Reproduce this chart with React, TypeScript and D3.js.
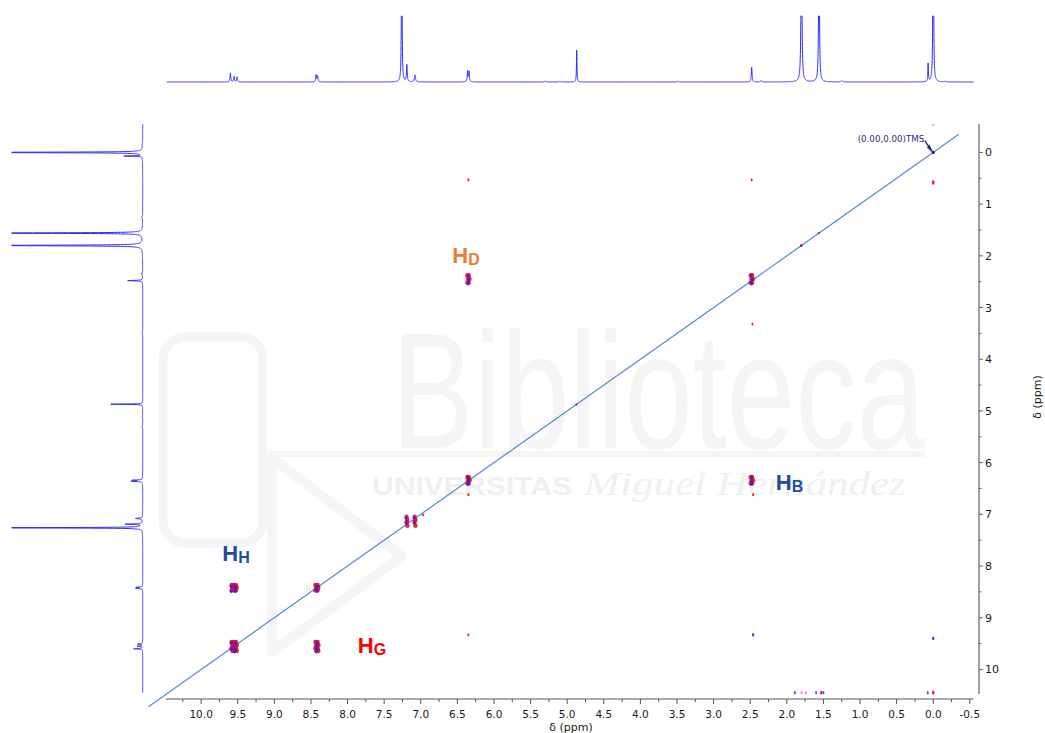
import React from 'react';
import * as d3 from 'd3';

const W = 1045;
const H = 733;

// 1H peak table: chemical shift (ppm), height (px units), half width at half height (ppm)
const peakShift = [9.6, 9.55, 9.51, 8.43, 8.41, 7.26, 7.19, 7.08, 6.36, 6.34, 5.3, 5.1, 4.87, 3.49, 2.48, 2.35, 1.8, 1.56, 1.25, 0.07, 0.0, -0.16];
const peakHeight = [9, 5.5, 5, 7, 6, 220, 17, 7, 11, 10, 0.8, 0.6, 32, 0.8, 15, 1.5, 200, 220, 1.2, 18, 320, 0.6];
const peakWidth = [0.006, 0.006, 0.006, 0.006, 0.006, 0.004, 0.006, 0.008, 0.006, 0.006, 0.01, 0.01, 0.004, 0.01, 0.006, 0.008, 0.006, 0.005, 0.012, 0.004, 0.004, 0.01];

// axis ticks
const f2Labels = [10.0, 9.5, 9.0, 8.5, 8.0, 7.5, 7.0, 6.5, 6.0, 5.5, 5.0, 4.5, 4.0, 3.5, 3.0, 2.5, 2.0, 1.5, 1.0, 0.5, 0.0, -0.5];
const f1Labels = [0, 1, 2, 3, 4, 5, 6, 7, 8, 9, 10];

// COSY spin groups: multiplet lines along f2 and f1
const groupName = ['HH', 'HG', 'A719', 'A708', 'HD', 'HB', 'W180', 'W156', 'S487', 'TMS'];
const groupF2 = [
  [9.52, 9.55, 9.58],
  [8.405, 8.435],
  [7.19],
  [7.08],
  [6.34, 6.36],
  [2.47, 2.49],
  [1.8],
  [1.56],
  [4.87],
  [0.0],
];
const groupF1 = [
  [9.47, 9.53, 9.59, 9.64],
  [8.37, 8.42, 8.47],
  [7.15, 7.22],
  [7.05, 7.11],
  [6.28, 6.34, 6.4],
  [2.38, 2.45, 2.52],
  [1.8],
  [1.56],
  [4.87],
  [0.0],
];
const groupSize = [1, 1, 1, 1, 1, 1, 0.6, 0.45, 0.45, 0.5];

// cross peaks as (f2 group, f1 group)
const crossPeaks: [string, string][] = [
  ['HH', 'HH'], ['HG', 'HG'], ['A719', 'A719'], ['A708', 'A708'], ['A719', 'A708'], ['A708', 'A719'],
  ['HD', 'HD'], ['HB', 'HB'], ['HH', 'HG'], ['HG', 'HH'], ['HD', 'HB'], ['HB', 'HD'],
  ['W180', 'W180'], ['W156', 'W156'], ['S487', 'S487'],
];

// weak t1-noise responses
const noiseF2 = [6.35, 2.48, 0.0, 2.47, 6.35, 2.46, 6.35, 2.46, 0.0, 6.97, 1.89, 1.8, 1.74, 1.6, 1.53, 1.5, 0.075, 0.0, 0.0];
const noiseF1 = [0.53, 0.53, 0.58, 3.32, 6.62, 6.62, 9.33, 9.33, 9.4, 7.01, 10.45, 10.45, 10.45, 10.45, 10.45, 10.45, 10.45, 10.45, -0.53];
const noiseTone = ['r', 'r', 'r', 'r', 'r', 'r', 'r', 'b', 'b', 'r', 'b', 'p', 'p', 'b', 'r', 'b', 'b', 'r', 'p'];
const noiseSize = [1, 1, 1.4, 1, 1, 1, 1, 1.2, 1.2, 1, 1, 1, 1, 1, 1.2, 1, 1, 1.3, 0.8];

// assignment labels: subscript, colour, f2 ppm, f1 ppm
const labelSub = ['D', 'H', 'G', 'B'];
const labelColor = ['#ED7D31', '#1F4E9C', '#FF0000', '#1F4E9C'];
const labelF2 = [6.57, 9.71, 7.86, 2.15];
const labelF1 = [2.14, 7.9, 9.68, 6.53];

const x = d3.scaleLinear().domain([10.48, -0.55]).range([166, 973.5]);
const y = d3.scaleLinear().domain([-0.55, 10.45]).range([124, 692.7]);

const RED = '#e3001b';
const BLUE = '#2424ff';
const PINK = '#e86ad0';

function spectrum() {
  const grid = d3.range(10.48, -0.55, -0.001).concat(peakShift);
  grid.sort((a, b) => b - a);
  return grid.map((p) => {
    let v = 0;
    for (let k = 0; k < peakShift.length; k++) {
      const w = peakWidth[k];
      const d = p - peakShift[k];
      v += (peakHeight[k] * w * w) / (w * w + d * d);
    }
    return { p, v };
  });
}

const TOP_BASE = 82;
const TOP_CLIP = 66;
const LEFT_BASE = 142.7;
const LEFT_CLIP = 131;

export default function App() {
  const spec = spectrum();
  const topPath = d3
    .line<{ p: number; v: number }>()
    .x((d) => x(d.p))
    .y((d) => TOP_BASE - Math.min(d.v, TOP_CLIP))(spec.filter((d) => d.p <= 10.47 && d.p >= -0.57)) as string;
  const leftPath = d3
    .line<{ p: number; v: number }>()
    .x((d) => LEFT_BASE - Math.min(d.v, LEFT_CLIP))
    .y((d) => y(d.p))(spec.filter((d) => d.p <= 10.45 && d.p >= -0.55)) as string;

  const f2Minor = d3.range(10.25, -0.5, -0.5);
  const f1Minor = d3.range(0.5, 10.5, 1);

  const idx = (n: string) => groupName.indexOf(n);

  const blobs: React.ReactNode[] = [];
  crossPeaks.forEach(([a, b], ci) => {
    const ia = idx(a);
    const ib = idx(b);
    const s = Math.min(groupSize[ia], groupSize[ib]);
    const xs = groupF2[ia];
    const ys = groupF1[ib];
    xs.forEach((px, i) =>
      ys.forEach((py, j) => {
        blobs.push(
          <ellipse key={`r${ci}-${i}-${j}`} cx={x(px) + (j % 2 ? 0.5 : -0.3) * s} cy={y(py)} rx={2.2 * s} ry={2.4 * s} fill={RED} opacity={0.85} />
        );
      })
    );
    xs.forEach((px, i) =>
      ys.forEach((py, j) => {
        if ((i + j) % 2 === 0 || s < 0.7) {
          blobs.push(
            <ellipse key={`b${ci}-${i}-${j}`} cx={x(px) + (j % 2 ? 0.8 : -0.9) * s} cy={y(py) + 1.0 * s} rx={1.4 * s} ry={1.7 * s} fill={BLUE} opacity={0.85} />
          );
        }
      })
    );
  });

  const font = '"DejaVu Sans", Verdana, sans-serif';

  return (
    <svg width={W} height={H} viewBox={`0 0 ${W} ${H}`} style={{ position: 'absolute', left: 0, top: 0, background: '#fff' }}>
      <rect x={0} y={0} width={W} height={H} fill="#fff" />

      {/* library watermark */}
      <g fill="none" stroke="#f5f5f5">
        <rect x={163} y={337} width={100} height={206} rx={22} strokeWidth={9} />
        <path d="M272,458 L272,652 L402,556 Z" strokeWidth={10} strokeLinejoin="round" />
        <line x1={268} y1={454} x2={925} y2={454} strokeWidth={6} />
      </g>
      <text x={392} y={448} fontFamily='"Liberation Sans", Arial, sans-serif' fontSize={165} fill="#f5f5f5" textLength={533} lengthAdjust="spacingAndGlyphs">
        Biblioteca
      </text>
      <text x={372} y={495} fontFamily='"Liberation Sans", Arial, sans-serif' fontWeight="bold" fontSize={25} fill="#f0f0f0" textLength={200} lengthAdjust="spacingAndGlyphs">
        UNIVERSITAS
      </text>
      <text x={584} y={495} fontFamily='"Liberation Serif", serif' fontStyle="italic" fontSize={34} fill="#f0f0f0" textLength={322} lengthAdjust="spacingAndGlyphs">
        Miguel Hernández
      </text>

      {/* 1D projections */}
      <path d={topPath} fill="none" stroke="#2b2bff" strokeWidth={1} strokeLinejoin="round" />
      <path d={leftPath} fill="none" stroke="#2b2bff" strokeWidth={1} strokeLinejoin="round" />

      {/* diagonal */}
      <line x1={x(10.72)} y1={y(10.72)} x2={x(-0.35)} y2={y(-0.35)} stroke="#5a86d6" strokeWidth={1.2} />

      {/* cross peaks */}
      <g>{blobs}</g>
      <g>
        {noiseF2.map((p, i) => (
          <ellipse
            key={`n${i}`}
            cx={x(p)}
            cy={y(noiseF1[i])}
            rx={1.0 * noiseSize[i]}
            ry={1.6 * noiseSize[i]}
            fill={noiseTone[i] === 'r' ? RED : noiseTone[i] === 'b' ? BLUE : PINK}
            opacity={0.85}
          />
        ))}
      </g>

      {/* TMS reference */}
      <circle cx={x(0)} cy={y(0)} r={1.6} fill="#23237a" />
      <line x1={x(0.115)} y1={y(-0.23)} x2={x(0.02)} y2={y(-0.02)} stroke="#23237a" strokeWidth={1.3} />
      <path d={`M${x(0)},${y(0)} L${x(0.055)},${y(-0.16)} L${x(0.085)},${y(-0.09)} Z`} fill="#23237a" />
      <text x={x(0.0) - 9} y={141.5} textAnchor="end" fontFamily={font} fontSize={8.7} fill="#2b2b80">
        (0.00,0.00)TMS
      </text>

      {/* assignment labels */}
      {labelSub.map((s, i) => (
        <text key={`l${i}`} x={x(labelF2[i])} y={y(labelF1[i])} fontFamily='"Liberation Sans", Arial, sans-serif' fontWeight="bold" fontSize={22} fill={labelColor[i]}>
          H
          <tspan fontSize={16} dy={2}>
            {s}
          </tspan>
        </text>
      ))}

      {/* f2 axis */}
      <g>
        <line x1={166} y1={699} x2={973.5} y2={699} stroke="#555" strokeWidth={1} />
        {f2Labels.map((t) => (
          <g key={`xt${t}`}>
            <line x1={x(t)} x2={x(t)} y1={699} y2={704} stroke="#555" />
            <text x={x(t)} y={718} textAnchor="middle" fontFamily={font} fontSize={10.5} fill="#1a1a1a">
              {t.toFixed(1)}
            </text>
          </g>
        ))}
        {f2Minor.map((t) => (
          <line key={`xm${t}`} x1={x(t)} x2={x(t)} y1={699} y2={702} stroke="#555" />
        ))}
        <text x={571} y={731} textAnchor="middle" fontFamily={font} fontSize={11} fill="#1a1a1a">
          δ (ppm)
        </text>
      </g>

      {/* f1 axis */}
      <g>
        <line x1={979} y1={124} x2={979} y2={694} stroke="#808080" strokeWidth={1.5} />
        {f1Labels.map((t) => (
          <g key={`yt${t}`}>
            <line x1={979} x2={983} y1={y(t)} y2={y(t)} stroke="#666" />
            <text x={985} y={y(t) + 4} fontFamily={font} fontSize={11} fill="#1a1a1a">
              {t}
            </text>
          </g>
        ))}
        {f1Minor.map((t) => (
          <line key={`ym${t}`} x1={979} x2={981.5} y1={y(t)} y2={y(t)} stroke="#666" />
        ))}
        <text transform="translate(1041,397) rotate(-90)" textAnchor="middle" fontFamily={font} fontSize={11} fill="#1a1a1a">
          δ (ppm)
        </text>
      </g>
    </svg>
  );
}
